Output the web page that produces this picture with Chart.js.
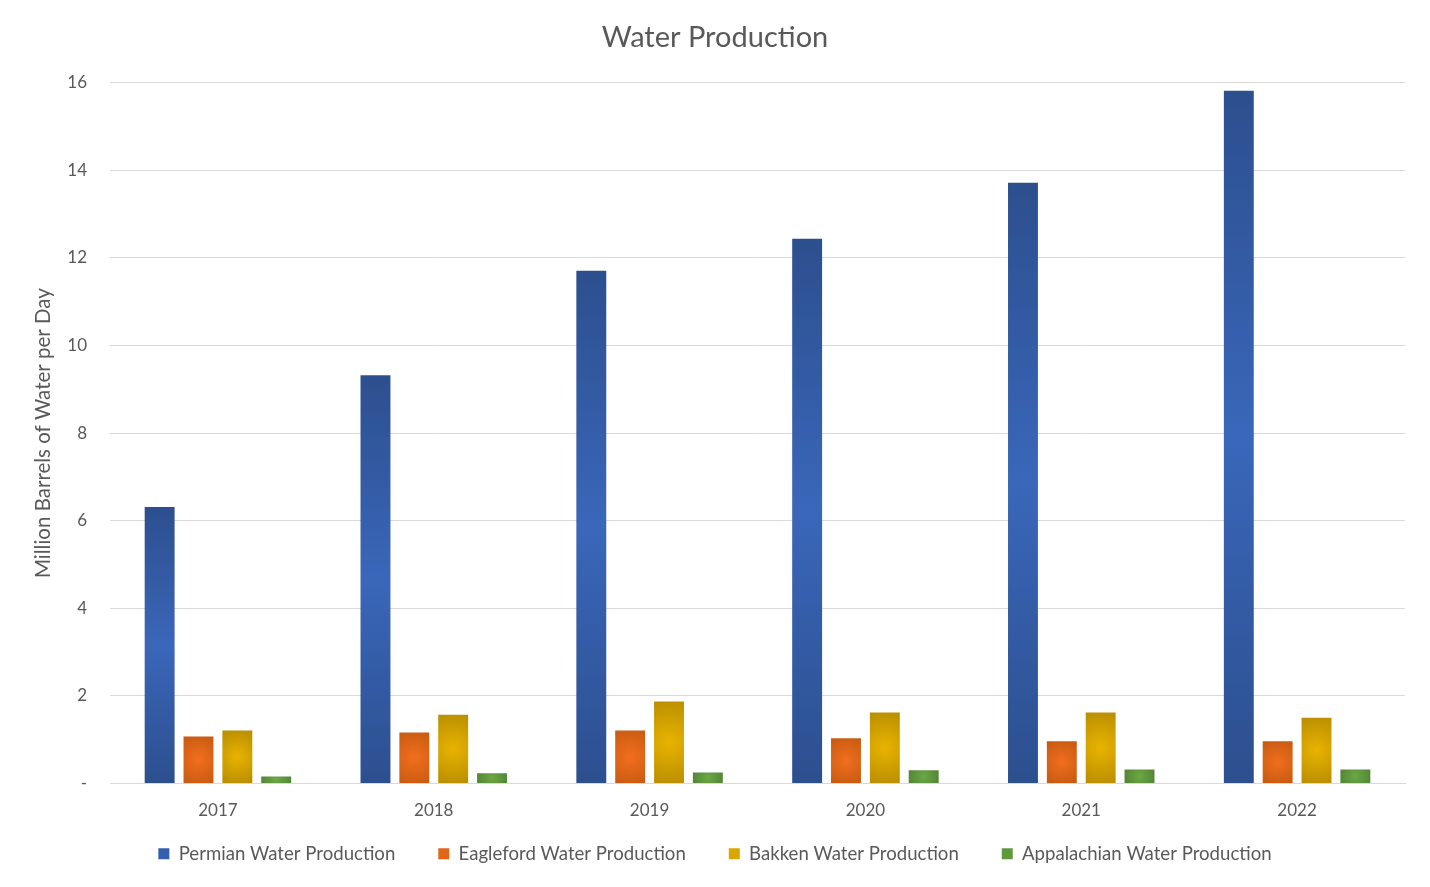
<!DOCTYPE html>
<html>
<head>
<meta charset="utf-8">
<script src="https://cdn.jsdelivr.net/npm/chart.js@4.4.1/dist/chart.umd.min.js"></script>
<style>
  html, body { margin: 0; padding: 0; background: #ffffff; }
  #wrap { width: 1430px; height: 887px; position: relative; }
</style>
</head>
<body>
<div id="wrap"><canvas id="c" width="1430" height="887"></canvas></div>
<script>
const years = ['2017', '2018', '2019', '2020', '2021', '2022'];
const permian = [6.31, 9.32, 11.71, 12.44, 13.72, 15.82];
const eagleford = [1.07, 1.16, 1.21, 1.03, 0.96, 0.96];
const bakken = [1.21, 1.57, 1.87, 1.62, 1.62, 1.50];
const appalachian = [0.16, 0.23, 0.25, 0.30, 0.32, 0.32];
const seriesNames = ['Permian Water Production', 'Eagleford Water Production', 'Bakken Water Production', 'Appalachian Water Production'];
const yTickValues = [0, 2, 4, 6, 8, 10, 12, 14, 16];
const yTickLabels = ['-', '2', '4', '6', '8', '10', '12', '14', '16'];

const FONT = 'Lato, "Open Sans", sans-serif';
const TEXT = '#595959';

const styles = [
  { solid: '#3360AE', edge: '#2C4F8E', mid: '#3A67BA', kind: 'linear' },
  { solid: '#E2661A', edge: '#C55A11', mid: '#F26E1E', kind: 'radial' },
  { solid: '#D9A700', edge: '#B48A00', mid: '#E8B300', kind: 'radial' },
  { solid: '#5E9A3C', edge: '#4E8034', mid: '#6CA845', kind: 'radial' }
];

const gradientPlugin = {
  id: 'barGradients',
  beforeDatasetsDraw(chart) {
    const ctx = chart.ctx;
    chart.data.datasets.forEach((ds, di) => {
      const meta = chart.getDatasetMeta(di);
      const st = styles[di];
      meta.data.forEach(el => {
        const x = el.x, top = el.y, base = el.base, w = el.width;
        const h = base - top;
        let g;
        if (st.kind === 'linear') {
          g = ctx.createLinearGradient(0, top, 0, base);
          g.addColorStop(0, st.edge);
          g.addColorStop(0.5, st.mid);
          g.addColorStop(1, st.edge);
        } else {
          const cy = top + h / 2;
          const r = Math.max(w, h) * 0.6;
          g = ctx.createRadialGradient(x, cy, 0, x, cy, r);
          g.addColorStop(0, st.mid);
          g.addColorStop(1, st.edge);
        }
        el.options = Object.assign({}, el.options, { backgroundColor: g });
      });
    });
  }
};

const seriesValues = [permian, eagleford, bakken, appalachian];
const datasets = seriesValues.map((vals, i) => ({
  label: seriesNames[i],
  data: vals,
  backgroundColor: styles[i].solid,
  borderWidth: 0,
  categoryPercentage: 0.72,
  barPercentage: 0.77
}));

new Chart(document.getElementById('c'), {
  type: 'bar',
  data: { labels: years, datasets },
  plugins: [gradientPlugin],
  options: {
    responsive: false,
    animation: false,
    devicePixelRatio: 1,
    layout: { padding: { left: 25, right: 25, top: 14, bottom: 14 } },
    plugins: {
      title: {
        display: true,
        text: 'Water Production',
        color: TEXT,
        font: { family: FONT, size: 29, weight: 'normal' },
        padding: { top: 6, bottom: 28 }
      },
      legend: {
        position: 'bottom',
        labels: {
          color: TEXT,
          font: { family: FONT, size: 18.6 },
          boxWidth: 11,
          boxHeight: 11,
          padding: 43,
          generateLabels(chart) {
            return chart.data.datasets.map((d, i) => ({
              text: d.label,
              fillStyle: styles[i].solid,
              strokeStyle: styles[i].solid,
              lineWidth: 0,
              fontColor: TEXT,
              datasetIndex: i,
              hidden: false
            }));
          }
        }
      },
      tooltip: { enabled: false }
    },
    scales: {
      x: {
        afterFit(s) { s.height = 18; s._computeLabelArea = () => undefined; },
        grid: { display: false, drawTicks: false },
        border: { display: true, color: '#D9D9D9', width: 1 },
        ticks: { color: TEXT, font: { family: FONT, size: 17 }, padding: 17 }
      },
      y: {
        min: 0,
        max: 16,
        afterFit(s) { s.width = 85; },
        afterBuildTicks(s) { s.ticks = yTickValues.map(v => ({ value: v })); },
        grid: { color: '#D9D9D9', lineWidth: 1, drawTicks: false },
        border: { display: false },
        ticks: {
          color: TEXT,
          font: { family: FONT, size: 17 },
          padding: 23,
          callback(v) { const i = yTickValues.indexOf(v); return i >= 0 ? yTickLabels[i] : ''; }
        },
        title: {
          display: true,
          text: 'Million Barrels of Water per Day',
          color: TEXT,
          font: { family: FONT, size: 20.5 },
          padding: { top: 6, bottom: 0 }
        }
      }
    }
  }
});
</script>
</body>
</html>
